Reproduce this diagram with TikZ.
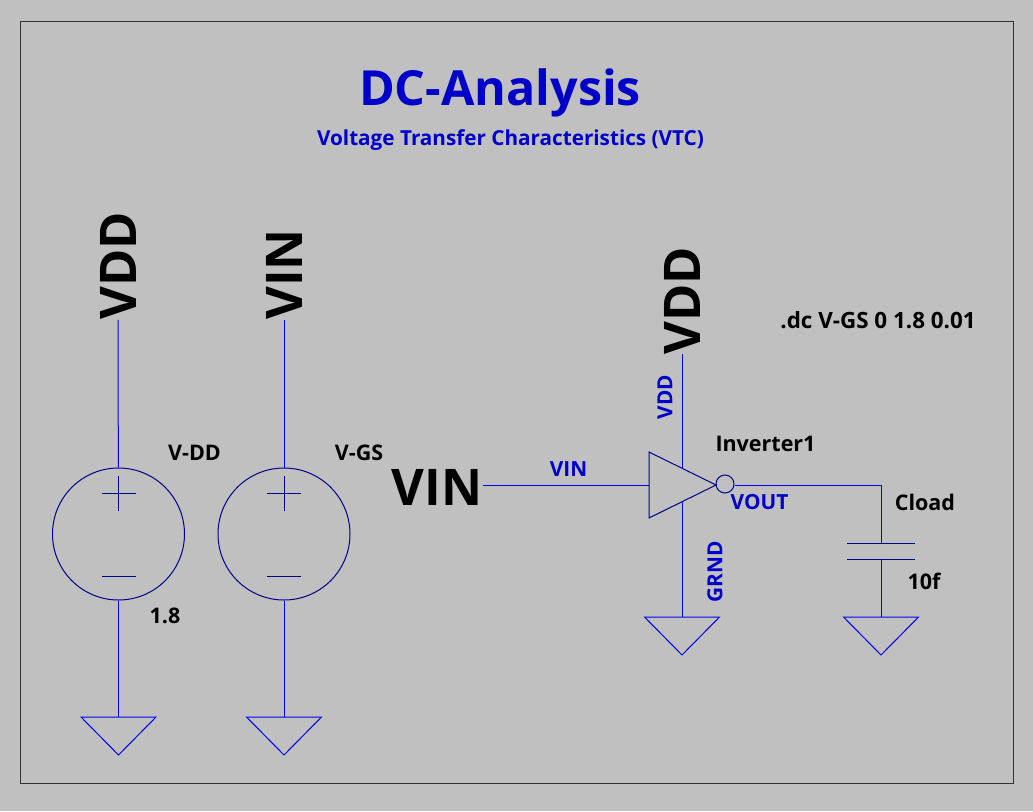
\documentclass[tikz,border=0pt]{standalone}
\usepackage{fontspec}
\setmainfont{Open Sans}
\usetikzlibrary{positioning}
\definecolor{sheet}{HTML}{C0C0C0}
\definecolor{wirecol}{HTML}{0000F0}
\definecolor{partcol}{HTML}{000088}
\definecolor{labelcol}{HTML}{0000C8}
\newcommand{\sized}[1]{\fontsize{#1}{#1}\selectfont\bfseries}
\tikzset{
    wire/.style={draw=wirecol,line width=1pt},
    part/.style={draw=partcol,line width=1pt},
    source/.style={circle,part,inner sep=0pt,minimum size=132pt},
    bubble/.style={circle,part,inner sep=0pt,minimum size=18pt},
    bigflag/.style={inner sep=0pt,text=black,font=\sized{50.5}},
    netflag/.style={inner sep=0pt,text=labelcol,font=\sized{20.8}},
    attr/.style={inner sep=0pt,text=black,font=\sized{21.5}}
}

\begin{document}
\begin{tikzpicture}[x=1pt,y=-1pt,on grid]
        \useasboundingbox[fill=sheet] (0,0) rectangle (1033,811);
        \draw[line width=1pt,draw=black!80] (20,21) rectangle (1013,783);

        % text
        \node[inner sep=0pt,text=labelcol,font=\sized{48.4}] (title) at (500,93) {DC-Analysis};
        \node[netflag,font=\sized{20.7}] (subtitle) at (510.5,140) {Voltage Transfer Characteristics (VTC)};
        \node[attr,font=\sized{22.4}] (cmd) at (878,320) {.dc V-GS 0 1.8 0.01};

        % sources
        \node[source] (vdd) at (118.5,534) {};
        \node[source,right=165.5pt of vdd] (vgs) {};
        \node[bigflag,rotate=90] (vddflag) at (118,266) {VDD};
        \node[bigflag,rotate=90] (vinflag) at (284,274.5) {VIN};
        \node[attr] (vddname) at (194.5,453) {V-DD};
        \node[attr] (vgsname) at (359,453) {V-GS};
        \node[attr] (vddval) at (165,616) {1.8};
        \coordinate (gnd1) at (118.5,717);
        \coordinate (gnd2) at (284,717);

        % inverter
        \coordinate (intop) at (649,452);
        \coordinate (inbot) at (649,518);
        \coordinate (inmid) at (649,485);
        \coordinate (tip) at (716,485);
        \coordinate (vddpin) at (682,469);
        \coordinate (gndpin) at (682,502);
        \node[bubble] (inv) at (725,484) {};
        \node[bigflag] (vinin) at (437,487.5) {VIN};
        \node[bigflag,rotate=90] (vddinv) at (682,300.5) {VDD};
        \node[netflag] (vinnet) at (568.5,469) {VIN};
        \node[netflag,rotate=90] (vddnet) at (665,397) {VDD};
        \node[netflag,rotate=90] (grndnet) at (715,572) {GRND};
        \node[netflag] (voutnet) at (759.5,502) {VOUT};
        \node[attr] (invname) at (765.5,444) {Inverter1};
        \coordinate (gnd3) at (682,617);

        % load
        \coordinate (corner) at (881,485);
        \coordinate (capa) at (881,543);
        \coordinate (capb) at (881,559);
        \coordinate (gnd4) at (881,617);
        \node[attr] (cname) at (925,502) {Cload};
        \node[attr] (cval) at (924,581) {10f};

        \draw[part] (intop) -- (tip) -- (inbot) -- cycle;
        \draw[part] (capa) ++(-34,0) -- ++(68,0);
        \draw[part] (capb) ++(-34,0) -- ++(68,0);
        \foreach \src in {vdd,vgs} {
            \draw[part] (\src.center) ++(-17,-41) -- ++(34,0);
            \draw[part] (\src.center) ++(0,-58) -- ++(0,35);
            \draw[part] (\src.center) ++(-17,42) -- ++(34,0);
        }
        \foreach \gnd in {gnd1,gnd2,gnd3,gnd4} {
            \draw[wire] (\gnd) ++(-37.5,0) -- ++(75,0) -- ++(-37.5,38) -- cycle;
        }

        \path[wire]
            (vddflag.west) edge (vdd)
            (vdd) edge (gnd1)
            (vinflag.west) edge (vgs)
            (vgs) edge (gnd2)
            (vinin.east |- inmid) edge (inmid)
            (vddinv.west) edge (vddpin)
            (gndpin) edge (gnd3)
            (capb) edge (gnd4);
        \draw[wire] (inv.east |- corner) -- (corner) -- (capa);
    \end{tikzpicture}
\end{document}
